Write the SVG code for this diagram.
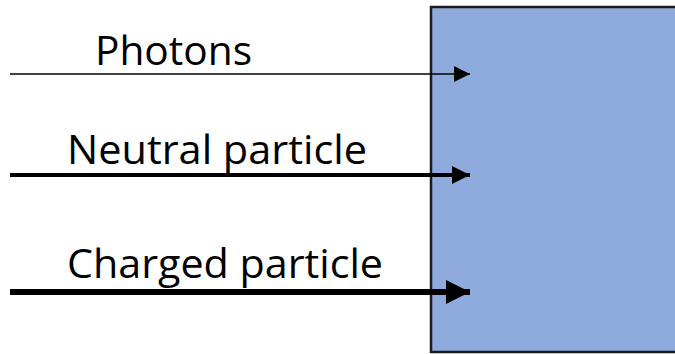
<svg xmlns="http://www.w3.org/2000/svg" width="675" height="354" viewBox="0 0 675 354">
<style>
.lbl{font-family:"Open Sans","Liberation Sans",sans-serif;font-size:40px;fill:#000}
.ln{stroke:#000;fill:none}
</style>
<defs>
<marker id="ah" viewBox="0 0 10 10" refX="10" refY="5" markerUnits="userSpaceOnUse" markerWidth="16" markerHeight="16" orient="auto"><path d="M0,0 L10,5 L0,10 Z" fill="#000"/></marker>
<marker id="ah2" viewBox="0 0 10 10" refX="10" refY="5" markerUnits="userSpaceOnUse" markerWidth="18" markerHeight="18" orient="auto"><path d="M0,0 L10,5 L0,10 Z" fill="#000"/></marker>
<marker id="ah3" viewBox="0 0 10 10" refX="10" refY="5" markerUnits="userSpaceOnUse" markerWidth="24" markerHeight="24" orient="auto"><path d="M0,0 L10,5 L0,10 Z" fill="#000"/></marker>
</defs>
<rect width="675" height="354" fill="#fff"/>
<g id="detector"><rect x="431" y="7" width="260" height="345" fill="#8FAADC" stroke="#1a1a1a" stroke-width="2.5"/></g>
<g id="labels">
<text class="lbl" x="95" y="65" textLength="157" lengthAdjust="spacingAndGlyphs">Photons</text>
<text class="lbl" x="67" y="164" textLength="300" lengthAdjust="spacingAndGlyphs">Neutral particle</text>
<text class="lbl" x="67" y="278" textLength="316" lengthAdjust="spacingAndGlyphs">Charged particle</text>
</g>
<g id="connectors">
<line class="ln" x1="10" y1="74" x2="470" y2="74" stroke-width="1.3" marker-end="url(#ah)"/>
<line class="ln" x1="10" y1="175" x2="470" y2="175" stroke-width="4" marker-end="url(#ah2)"/>
<line class="ln" x1="10" y1="292" x2="470" y2="292" stroke-width="6" marker-end="url(#ah3)"/>
</g>
</svg>
